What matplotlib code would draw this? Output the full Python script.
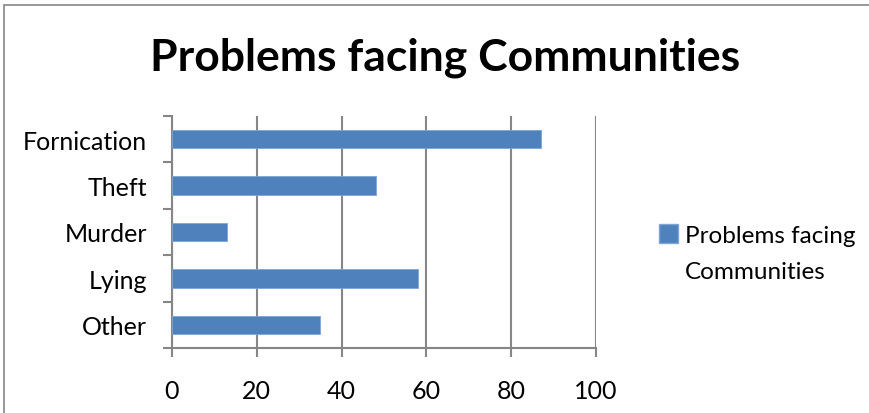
import matplotlib.pyplot as plt
from matplotlib.patches import Rectangle, Patch

# data (top to bottom)
categories = ['Fornication', 'Theft', 'Murder', 'Lying', 'Other']
values = [87, 48, 13, 58, 35]
series_name = 'Problems facing Communities'

plt.rcParams['font.family'] = ['Lato', 'DejaVu Sans']

W, H = 870, 414
fig = plt.figure(figsize=(W / 100, H / 100), dpi=100)

# outer chart frame (right/bottom run off the picture)
fig.patches.append(Rectangle((4 / W, -0.1), 1.2, 1.1 - 6 / H, transform=fig.transFigure,
                             fill=False, edgecolor='#868686', linewidth=1.2))

ax = fig.add_axes([172 / W, 1 - 349 / H, (596 - 172) / W, (349 - 117) / H])
ypos = list(range(len(categories)))
ax.barh(ypos, values, height=0.4, color='#4F81BD', edgecolor='#7fa5d6', linewidth=0.6, zorder=3)

ax.set_xlim(0, 100)
ax.set_ylim(-0.5, len(categories) - 0.5)
ax.invert_yaxis()
ax.set_xticks([0, 20, 40, 60, 80, 100])
ax.set_yticks(ypos)
ax.set_yticklabels(categories)
ax.set_yticks([i - 0.5 for i in range(len(categories) + 1)], minor=True)

ax.grid(axis='x', color='#868686', linewidth=1.5, zorder=0)
for s in ['top', 'right']:
    ax.spines[s].set_visible(False)
for s in ['left', 'bottom']:
    ax.spines[s].set_color('#868686')
    ax.spines[s].set_linewidth(1.5)

ax.tick_params(axis='y', which='major', length=0, pad=18, labelsize=18)
ax.tick_params(axis='y', which='minor', length=6.5, width=1.5, color='#868686')
ax.tick_params(axis='x', which='major', length=6.5, width=1.5, color='#868686', pad=16, labelsize=18)

fig.text(445 / W, 1 - 58 / H, series_name, ha='center', va='center',
         fontsize=32, fontweight='bold')

# legend: series name wraps onto a second line, marker sits at the first line
handle = Patch(facecolor='#4F81BD', edgecolor='#7fa5d6')
blank = Patch(facecolor='none', edgecolor='none')
words = series_name.split(' ')
fig.legend([handle, blank], [' '.join(words[:2]), words[2]], loc='upper left',
           bbox_to_anchor=(659 / W, 1 - 225 / H), frameon=False, fontsize=17.5,
           handlelength=0.8, handleheight=0.8, handletextpad=0.25, labelspacing=0.6,
           borderpad=0, borderaxespad=0)

fig.savefig('out.png', dpi=100)
